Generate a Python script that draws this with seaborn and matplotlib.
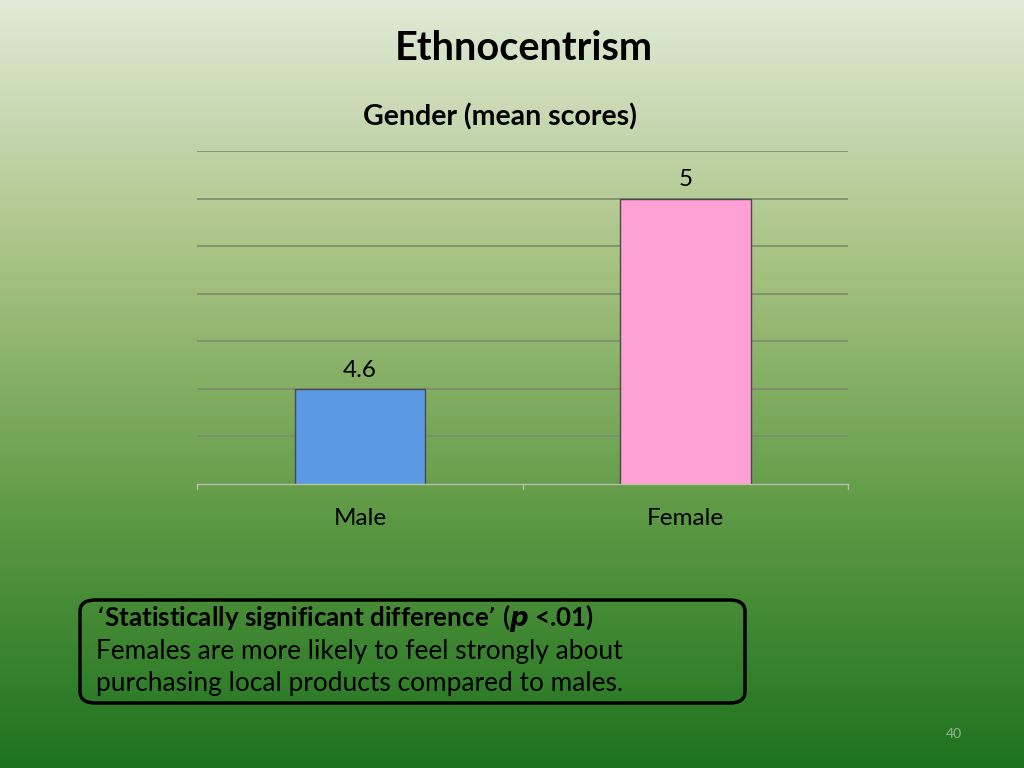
import numpy as np
import pandas as pd
import matplotlib.pyplot as plt
import seaborn as sns
from matplotlib.patches import FancyBboxPatch
from matplotlib.colors import LinearSegmentedColormap

# Data
categories = ["Male", "Female"]
mean_scores = [4.6, 5.0]
value_labels = ["4.6", "5"]
bar_colors = ["#5b9ae2", "#ffa1d5"]

sns.set_theme(style="white")
plt.rcParams["font.family"] = ["Lato", "DejaVu Sans"]

fig = plt.figure(figsize=(10.24, 7.68), dpi=100)

# Slide background: vertical green gradient
bg = fig.add_axes([0, 0, 1, 1], zorder=0)
grad_cmap = LinearSegmentedColormap.from_list(
    "slide", ["#e0ead6", "#a9c384", "#5f9a45", "#1e721e"])
bg.imshow(np.linspace(0, 1, 256).reshape(-1, 1), aspect="auto", cmap=grad_cmap,
          extent=[0, 1, 0, 1])
bg.set_axis_off()

# Chart
ax = fig.add_axes([0.1924, 0.3698, 0.636, 0.4336], zorder=1)
ax.patch.set_alpha(0)
df = pd.DataFrame({"gender": categories, "score": mean_scores})
sns.barplot(data=df, x="gender", y="score", hue="gender", palette=bar_colors,
            saturation=1, width=0.4, edgecolor="#4a4a4a", linewidth=1.0,
            legend=False, ax=ax)
ax.set_ylim(4.4, 5.1)
ax.set_xlim(-0.5, 1.5)
ax.set_yticks(np.arange(4.4, 5.11, 0.1))
ax.yaxis.grid(True, color="#7d8a6e", linewidth=1.2)
ax.set_axisbelow(True)
ax.tick_params(axis="y", left=False, labelleft=False)
ax.tick_params(axis="x", bottom=False, labelsize=17.5, colors="black", pad=11.5)
for s in ["top", "right", "left"]:
    ax.spines[s].set_visible(False)
ax.spines["bottom"].set_color("#b5c2a5")
ax.spines["bottom"].set_linewidth(1.0)
for xs in [-0.5, 0.5, 1.5]:
    ax.plot([xs, xs], [4.4, 4.39], color="#b5c2a5", lw=1, clip_on=False)
ax.set_xlabel("")
ax.set_ylabel("")
for i, (v, lab) in enumerate(zip(mean_scores, value_labels)):
    ax.annotate(lab, (i, v), xytext=(0, 6), textcoords="offset points",
                ha="center", va="bottom", fontsize=17.5, color="black")

fig.text(0.512, 0.937, "Ethnocentrism", ha="center", va="center",
         fontsize=28.5, fontweight="bold", color="black")
fig.text(0.488, 0.848, "Gender (mean scores)", ha="center", va="center",
         fontsize=20.5, fontweight="bold", color="black")

# Note box
box = FancyBboxPatch((80 / 1024, 1 - 703 / 768), 665 / 1024, 103 / 768,
                     boxstyle="round,pad=0,rounding_size=0.015",
                     transform=fig.transFigure, facecolor="none",
                     edgecolor="black", linewidth=2.5, zorder=3)
fig.patches.append(box)
fig.text(96 / 1024, 1 - 618 / 768,
         "\u2018Statistically significant difference\u2019 ($\\mathbfit{p}$ <.01)",
         ha="left", va="center", fontsize=18.7, fontweight="bold", color="black")
fig.text(96 / 1024, 1 - 652 / 768, "Females are more likely to feel strongly about",
         ha="left", va="center", fontsize=18.9, color="black")
fig.text(96 / 1024, 1 - 684 / 768, "purchasing local products compared to males.",
         ha="left", va="center", fontsize=18.9, color="black")

fig.text(954 / 1024, 1 - 734 / 768, "40", ha="center", va="center",
         fontsize=10, color="#8fb58a")

fig.savefig("out.png", dpi=100)
